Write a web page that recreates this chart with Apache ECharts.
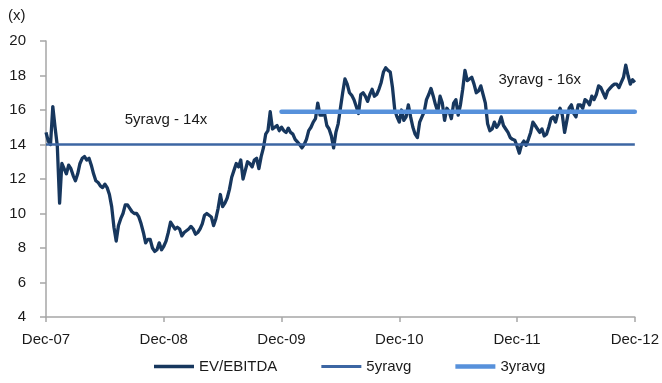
<!DOCTYPE html>
<html>
<head>
<meta charset="utf-8">
<script src="https://cdn.jsdelivr.net/npm/echarts@6/dist/echarts.min.js"></script>
<style>
  html, body { margin: 0; padding: 0; background: #fff; }
  #chart { width: 662px; height: 383px; }
</style>
</head>
<body>
<div id="chart"></div>
<script>
// Weekly EV/EBITDA multiple, week 0 = Dec-07 through week 260 = Dec-12
const evEbitda = [
  14.7, 14.2, 14.0, 16.2, 15.0, 13.9, 10.6, 12.9, 12.6, 12.3,
  12.8, 12.6, 12.2, 11.9, 12.3, 12.9, 13.2, 13.3, 13.1, 13.2,
  12.8, 12.3, 11.9, 11.8, 11.6, 11.5, 11.7, 11.5, 11.1, 10.4,
  9.2, 8.4, 9.3, 9.7, 10.0, 10.5, 10.5, 10.3, 10.1, 10.0,
  10.0, 9.8, 9.4, 8.9, 8.3, 8.5, 8.5, 8.0, 7.8, 7.9,
  8.3, 7.9, 8.1, 8.4, 8.9, 9.5, 9.3, 9.1, 9.2, 9.1,
  8.7, 8.9, 9.0, 9.1, 9.25, 9.1, 8.8, 8.9, 9.1, 9.4,
  9.9, 10.0, 9.9, 9.8, 9.3, 9.7, 10.3, 11.1, 10.4, 10.6,
  10.9, 11.4, 12.1, 12.5, 12.9, 12.7, 13.1, 12.0, 12.5, 13.0,
  12.9, 12.7, 13.1, 13.2, 12.6, 13.3, 13.8, 14.6, 14.8, 15.9,
  14.9, 15.0, 15.1, 14.8, 15.0, 14.8, 14.7, 14.95, 14.7, 14.6,
  14.3, 14.15, 14.0, 13.8, 14.0, 14.3, 14.8, 15.0, 15.3, 15.5,
  16.4, 15.7, 15.7, 15.8, 15.1, 14.9, 14.5, 13.8, 14.7, 15.2,
  16.1, 17.0, 17.8, 17.5, 17.0, 16.85, 16.6, 16.2, 15.8, 16.9,
  17.0, 16.8, 16.5, 16.9, 17.2, 16.8, 16.9, 17.2, 17.6, 18.2,
  18.45, 18.3, 18.2, 17.3, 16.0, 15.6, 15.3, 16.0, 15.4, 15.6,
  16.3, 15.6, 15.0, 14.6, 14.4, 15.3, 15.6, 15.9, 16.6, 16.9,
  17.25, 16.8, 16.3, 15.9, 16.8, 16.4, 15.4, 16.1, 15.9, 15.5,
  16.4, 16.6, 15.7, 16.3, 17.2, 18.3, 17.7, 17.8, 17.9, 17.5,
  17.0, 17.1, 17.4, 16.9, 16.4, 15.2, 14.8, 14.9, 15.3, 15.0,
  15.2, 15.6, 15.1, 14.9, 14.7, 14.4, 14.3, 14.25, 13.9, 13.5,
  14.0, 14.2, 13.95, 14.3, 14.7, 15.3, 15.1, 14.9, 14.7, 14.9,
  14.5, 14.6, 15.0, 15.5, 15.6, 15.3, 15.8, 16.1, 15.7, 14.7,
  15.4, 16.1, 16.3, 15.8, 15.6, 16.3, 16.3, 16.1, 16.6, 16.5,
  16.3, 16.8, 16.6, 16.9, 17.4, 17.3, 17.0, 16.7, 17.1, 17.25,
  17.4, 17.5, 17.5, 17.3, 17.6, 17.9, 18.6, 18.0, 17.5, 17.75,
  17.6
];

// Long-run averages
const fiveYrAvg = 14;
const threeYrAvg = 15.9;
const threeYrStartWeek = 104;   // Dec-09

// X-axis labels, one per year
const tickLabels = ['Dec-07', 'Dec-08', 'Dec-09', 'Dec-10', 'Dec-11', 'Dec-12'];
const weeksPerYear = 52;

// Annotation texts and their anchor [week, value]
const fiveYrNote = { text: '5yravg - 14x', at: [53, 15.4] };
const threeYrNote = { text: '3yravg - 16x', at: [218, 17.73] };

const lastWeek = evEbitda.length - 1;
const evData = evEbitda.map((v, i) => [i, v]);
const fiveData = [[0, fiveYrAvg], [lastWeek, fiveYrAvg]];
const threeData = [[threeYrStartWeek, threeYrAvg], [lastWeek, threeYrAvg]];

const FONT = '"Liberation Sans", Arial, sans-serif';
const TXT = '#1a1a1a';
const AXIS = '#a6a6a6';
const NAVY = '#17375e';
const MID = '#3c66a3';
const LIGHT = '#5791db';

const chart = echarts.init(document.getElementById('chart'), null, { renderer: 'canvas' });

const noteLabel = {
  show: true,
  position: 'inside',
  formatter: '{b}',
  fontFamily: FONT,
  fontSize: 15,
  color: TXT
};

// Legend keys drawn as plain bars of differing thickness
const bar = h => 'path://M0,0M40,10M0,' + (5 - h / 2) + 'L40,' + (5 - h / 2) +
  'L40,' + (5 + h / 2) + 'L0,' + (5 + h / 2) + 'Z';

chart.setOption({
  animation: false,
  backgroundColor: '#ffffff',
  grid: { left: 46, right: 25, top: 41, bottom: 66 },
  graphic: [{
    type: 'text', left: 8, top: 8,
    style: { text: '(x)', font: '15px ' + FONT, fill: TXT }
  }],
  legend: {
    left: 149, top: 354,
    itemWidth: 40, itemHeight: 10, itemGap: 44,
    textStyle: { fontFamily: FONT, fontSize: 15, color: TXT },
    data: [
      { name: 'EV/EBITDA', icon: bar(3.5), itemStyle: { color: NAVY } },
      { name: '5yravg', icon: bar(3), itemStyle: { color: MID } },
      { name: '3yravg', icon: bar(4.5), itemStyle: { color: LIGHT } }
    ]
  },
  xAxis: {
    type: 'value', min: 0, max: weeksPerYear * 5, interval: weeksPerYear,
    splitLine: { show: false },
    axisLine: { lineStyle: { color: AXIS, width: 1.5 } },
    axisTick: { show: true, length: 5, lineStyle: { color: AXIS, width: 1.5 } },
    axisLabel: {
      margin: 15, fontFamily: FONT, fontSize: 15, color: TXT,
      formatter: v => tickLabels[Math.round(v / weeksPerYear)] || ''
    }
  },
  yAxis: {
    type: 'value', min: 4, max: 20, interval: 2,
    splitLine: { show: false },
    axisLine: { show: true, lineStyle: { color: AXIS, width: 1.5 } },
    axisTick: { show: true, length: 6, lineStyle: { color: AXIS, width: 1.5 } },
    axisLabel: { margin: 20, fontFamily: FONT, fontSize: 15, color: TXT }
  },
  series: [
    {
      name: 'EV/EBITDA', type: 'line', data: evData,
      showSymbol: false, symbol: 'none',
      lineStyle: { color: NAVY, width: 3.3, join: 'round' },
      itemStyle: { color: NAVY },
      z: 2
    },
    {
      name: '5yravg', type: 'line', data: fiveData,
      showSymbol: false, symbol: 'none',
      lineStyle: { color: MID, width: 2.5 },
      itemStyle: { color: MID },
      z: 3,
      markPoint: {
        symbol: 'circle', symbolSize: 1,
        itemStyle: { color: 'rgba(0,0,0,0)' },
        label: noteLabel,
        data: [{ name: fiveYrNote.text, coord: fiveYrNote.at }]
      }
    },
    {
      name: '3yravg', type: 'line', data: threeData,
      showSymbol: false, symbol: 'none',
      lineStyle: { color: LIGHT, width: 4.5, cap: 'round' },
      itemStyle: { color: LIGHT },
      z: 4,
      markPoint: {
        symbol: 'circle', symbolSize: 1,
        itemStyle: { color: 'rgba(0,0,0,0)' },
        label: noteLabel,
        data: [{ name: threeYrNote.text, coord: threeYrNote.at }]
      }
    }
  ]
});
</script>
</body>
</html>
